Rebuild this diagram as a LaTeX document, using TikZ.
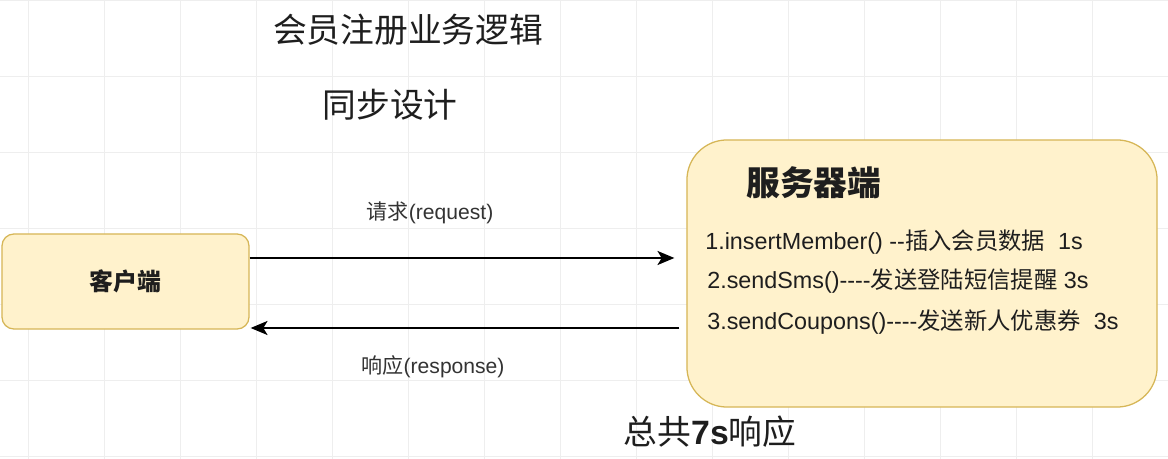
\documentclass[tikz,border=0pt]{standalone}
\usepackage{fontspec}
\setmainfont{Liberation Sans}[Ligatures=TeXOff]
\newfontfamily\cjk{Noto Sans CJK SC}
\usetikzlibrary{arrows.meta, calc}
\definecolor{boxFill}{HTML}{FFF2CC}
\definecolor{boxLine}{HTML}{D6B656}
\definecolor{gridLine}{HTML}{EEEEEE}
\definecolor{inkDark}{HTML}{1E1E1E}
\definecolor{inkLabel}{HTML}{333333}

\begin{document}
\begin{tikzpicture}[x=0.025cm, y=0.025cm,
    panel/.style={rounded corners=#1, fill=boxFill, draw=boxLine, line width=0.9pt},
    flow/.style={-{Stealth[length=12pt, width=10pt, inset=3pt]}, line width=1.3pt, black},
    heading/.style={font=\cjk\fontsize{24}{28}\selectfont, text=inkDark, inner sep=0pt},
    methodline/.style={anchor=west, inner sep=0pt, text=inkDark, font=\fontsize{16.6}{18}\selectfont},
    flowlabel/.style={inner sep=0pt, text=inkLabel, font=\fontsize{15}{17}\selectfont}]
  \useasboundingbox (0,0) rectangle (1168,459);
  \fill[white] (0,0) rectangle (1168,459);
  % background grid
  \foreach \gx in {28,104,...,1168} \draw[gridLine, line width=0.6pt] (\gx,0) -- (\gx,459);
  \foreach \gy in {3,79,...,459} \draw[gridLine, line width=0.6pt] (0,\gy) -- (1168,\gy);

  \node[heading] (title) at (408,429) {会员注册业务逻辑};
  \node[heading] (subtitle) at (390,354) {同步设计};

  \node[panel=0.3cm, minimum width=6.175cm, minimum height=2.375cm, text=inkDark,
    font=\cjk\bfseries\fontsize{17}{19}\selectfont] (client) at (125.5,177.5) {客户端};
  \node[panel=1cm, minimum width=11.75cm, minimum height=6.675cm] (server) at (922,185.5) {};

  \node[heading, anchor=west, font=\cjk\bfseries\fontsize{24}{28}\selectfont] (serverTitle) at (746,276) {服务器端};
  \node[methodline] (insertMember) at (705,217) {1.insertMember() --{\cjk 插入会员数据}\ \ 1s};
  \node[methodline] (sendSms) at (707,178) {2.sendSms()----{\cjk 发送登陆短信提醒} 3s};
  \node[methodline] (sendCoupons) at (707,137) {3.sendCoupons()----{\cjk 发送新人优惠券}\ \ 3s};

  % request / response
  \draw[flow, shorten >=8.5pt] ($(client.east)+(0,23.5)$) -- ($(server.west)+(0,15.5)$);
  \draw[flow, shorten <=5pt, shorten >=0.7pt] ($(server.west)+(0,-54.5)$) -- ($(client.east)+(0,-46.5)$);
  \node[flowlabel] (reqLabel) at (430,246) {{\cjk 请求}(request)};
  \node[flowlabel] (respLabel) at (433,92) {{\cjk 响应}(response)};

  \node[heading] (total) at (710,27) {总共{\fontspec{Liberation Sans}\bfseries 7s}响应};
\end{tikzpicture}
\end{document}
